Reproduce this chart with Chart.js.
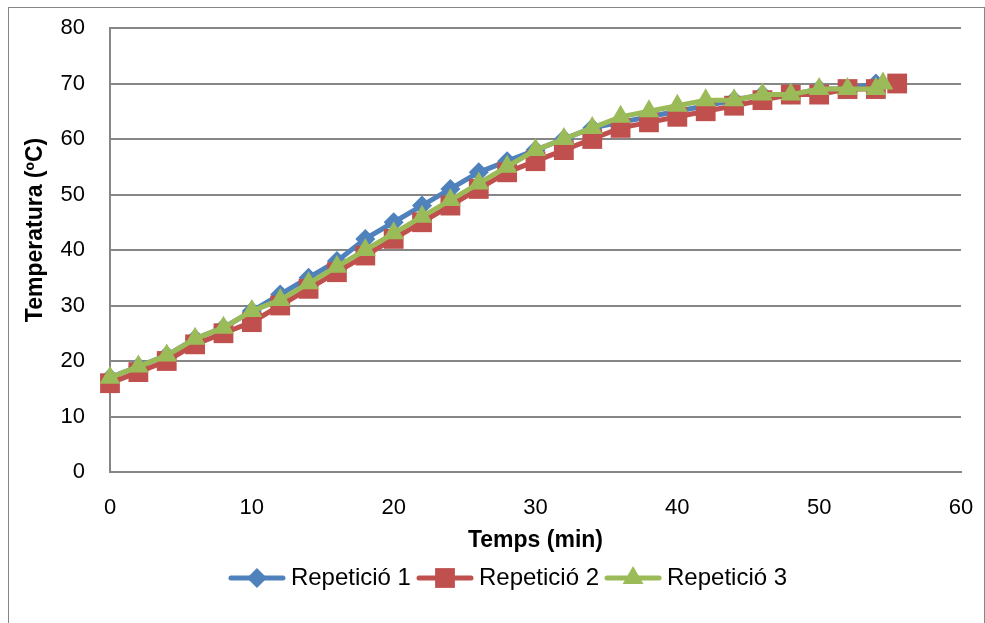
<!DOCTYPE html>
<html>
<head>
<meta charset="utf-8">
<script src="https://cdn.jsdelivr.net/npm/chart.js@4.4.1/dist/chart.umd.min.js"></script>
<style>
  html, body { margin: 0; padding: 0; background: #fff; }
</style>
</head>
<body>
<canvas id="myChart" width="985" height="623"></canvas>
<script>
// minutes and temperatures
const times1 = [0, 2, 4, 6, 8, 10, 12, 14, 16, 18, 20, 22, 24, 26, 28, 30, 32, 34, 36, 38, 40, 42, 44, 46, 48, 50, 52, 54];
const rep1 = [17, 19, 21, 24, 26, 29, 32, 35, 38, 42, 45, 48, 51, 54, 56, 58, 60, 62, 63, 64, 65, 66, 67, 68, 68, 69, 69, 70];
const times2 = [0, 2, 4, 6, 8, 10, 12, 14, 16, 18, 20, 22, 24, 26, 28, 30, 32, 34, 36, 38, 40, 42, 44, 46, 48, 50, 52, 54, 55.5];
const rep2 = [16, 18, 20, 23, 25, 27, 30, 33, 36, 39, 42, 45, 48, 51, 54, 56, 58, 60, 62, 63, 64, 65, 66, 67, 68, 68, 69, 69, 70];
const times3 = [0, 2, 4, 6, 8, 10, 12, 14, 16, 18, 20, 22, 24, 26, 28, 30, 32, 34, 36, 38, 40, 42, 44, 46, 48, 50, 52, 54, 54.5];
const rep3 = [17, 19, 21, 24, 26, 29, 31, 34, 37, 40, 43, 46, 49, 52, 55, 58, 60, 62, 64, 65, 66, 67, 67, 68, 68, 69, 69, 69, 70];
const seriesNames = ['Repetició 1', 'Repetició 2', 'Repetició 3'];
const xTitle = 'Temps (min)';
const yTitle = 'Temperatura (ºC)';

const COLORS = { blue: '#4F81BD', red: '#C0504D', green: '#9BBB59' };
const GRID = '#868686';

Chart.defaults.font.family = "'Liberation Sans', Arial, sans-serif";
Chart.defaults.font.size = 22;
Chart.defaults.color = '#000';

const toPoints = (xs, ys) => xs.map((x, i) => ({ x: x, y: ys[i] }));

// little line + marker picture for the legend, like Excel draws it
function legendSample(color, style, r) {
    const c = document.createElement('canvas');
    c.width = 58;
    c.height = 30;
    const g = c.getContext('2d');
    g.strokeStyle = color;
    g.fillStyle = color;
    g.lineWidth = 5;
    g.lineCap = 'round';
    g.beginPath();
    g.moveTo(3, 15);
    g.lineTo(55, 15);
    g.stroke();
    g.beginPath();
    if (style === 'rectRot') {
        g.moveTo(29, 15 - r); g.lineTo(29 + r, 15); g.lineTo(29, 15 + r); g.lineTo(29 - r, 15);
    } else if (style === 'rect') {
        const s = r * Math.SQRT1_2;
        g.rect(29 - s, 15 - s, 2 * s, 2 * s);
    } else {
        g.moveTo(29, 15 - r);
        g.lineTo(29 + r * 0.866, 15 + r * 0.5);
        g.lineTo(29 - r * 0.866, 15 + r * 0.5);
    }
    g.closePath();
    g.fill();
    return c;
}

const chartFrame = {
    id: 'chartFrame',
    beforeDraw(chart) {
        const ctx = chart.ctx;
        ctx.save();
        ctx.fillStyle = '#fff';
        ctx.fillRect(0, 0, chart.width, chart.height);
        ctx.strokeStyle = GRID;
        ctx.lineWidth = 1;
        ctx.strokeRect(8.5, 7.5, 976, 640);
        ctx.restore();
        // Excel sits the y title a bit above the middle of the plot
        const ys = chart.scales.y;
        if (!ys._titleShifted) {
            const orig = ys.drawTitle.bind(ys);
            ys.drawTitle = function () {
                this.ctx.save();
                this.ctx.translate(0, -20);
                orig();
                this.ctx.restore();
            };
            ys._titleShifted = true;
        }
    },
    afterLayout(chart) {
        const lg = chart.legend;
        const dx = 511 - (lg.left + lg.right) / 2;
        lg.left += dx;
        lg.right += dx;
    }
};

const datasets = [
    { label: seriesNames[0], data: toPoints(times1, rep1), borderColor: COLORS.blue, backgroundColor: COLORS.blue,
      pointStyle: 'rectRot', pointRadius: 10, order: 3, sample: legendSample(COLORS.blue, 'rectRot', 10) },
    { label: seriesNames[1], data: toPoints(times2, rep2), borderColor: COLORS.red, backgroundColor: COLORS.red,
      pointStyle: 'rect', pointRadius: 14, order: 2, sample: legendSample(COLORS.red, 'rect', 14) },
    { label: seriesNames[2], data: toPoints(times3, rep3), borderColor: COLORS.green, backgroundColor: COLORS.green,
      pointStyle: 'triangle', pointRadius: 12, order: 1, sample: legendSample(COLORS.green, 'triangle', 12) }
];
datasets.forEach(d => {
    d.showLine = true;
    d.borderWidth = 5;
    d.pointBorderWidth = 0;
    d.pointHoverRadius = d.pointRadius;
    d.clip = false;
});

new Chart(document.getElementById('myChart'), {
    type: 'scatter',
    data: { datasets: datasets },
    plugins: [chartFrame],
    options: {
        responsive: false,
        animation: false,
        devicePixelRatio: 1,
        layout: { autoPadding: false, padding: { top: 28, right: 24, left: 11, bottom: 23 } },
        plugins: {
            legend: {
                position: 'bottom',
                labels: {
                    usePointStyle: true,
                    pointStyleWidth: 44,
                    padding: 12,
                    font: { size: 24 },
                    generateLabels: (chart) => chart.data.datasets.map((d, i) => ({
                        text: d.label,
                        pointStyle: d.sample,
                        fillStyle: d.borderColor,
                        strokeStyle: d.borderColor,
                        lineWidth: 0,
                        fontColor: '#000',
                        datasetIndex: i
                    }))
                }
            },
            tooltip: { enabled: false }
        },
        scales: {
            x: {
                type: 'linear',
                min: 0,
                max: 60,
                ticks: { stepSize: 10, padding: 0 },
                // invisible tick marks only to push the labels down
                grid: { color: 'transparent', tickColor: 'transparent', drawTicks: true, tickLength: 23 },
                border: { display: true, color: GRID, width: 2 },
                title: { display: true, text: xTitle, font: { size: 23, weight: 'bold' }, padding: { top: 6, bottom: 0 } },
                afterFit: (scale) => { scale.height = 82; }
            },
            y: {
                min: 0,
                max: 80,
                ticks: { stepSize: 10, padding: 0 },
                grid: { color: GRID, lineWidth: 2, tickColor: 'transparent', drawTicks: true, tickLength: 25 },
                border: { display: true, color: GRID, width: 2 },
                title: { display: true, text: yTitle, font: { size: 23, weight: 'bold' }, padding: { top: 11, bottom: 11 } },
                afterFit: (scale) => { scale.width = 99; }
            }
        }
    }
});
</script>
</body>
</html>
